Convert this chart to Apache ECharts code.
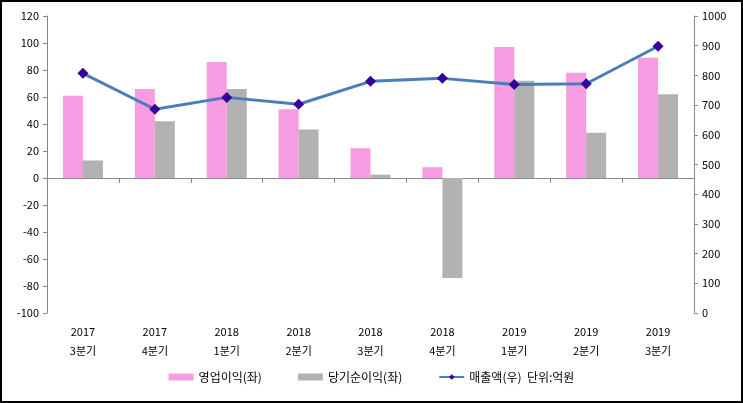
<!DOCTYPE html>
<html>
<head>
<meta charset="utf-8">
<style>
  html, body { margin: 0; padding: 0; background: #fff; }
  #main { width: 743px; height: 403px; }
</style>
<script src="https://cdn.jsdelivr.net/npm/echarts@6/dist/echarts.min.js"></script>
</head>
<body>
<div id="main"></div>
<script>
var years = ['2017', '2017', '2018', '2018', '2018', '2018', '2019', '2019', '2019'];
var quarters = ['3분기', '4분기', '1분기', '2분기', '3분기', '4분기', '1분기', '2분기', '3분기'];
var operProfit = [61, 66, 86, 51, 22, 8, 97, 78, 89];      // 영업이익(좌)
var netProfit = [13, 42, 66, 36, 2.5, -74, 72, 33.5, 62];   // 당기순이익(좌)
var sales = [807, 686, 726, 703, 780, 790, 769, 772, 898];  // 매출액(우)

var categories = years.map(function (y, i) { return y + '\n' + quarters[i]; });

var myChart = echarts.init(document.getElementById('main'));
var font = '"Noto Sans CJK KR", "Noto Sans", sans-serif';

var option = {
    backgroundColor: '#fff',
    animation: false,
    textStyle: { fontFamily: font },
    graphic: [{
        type: 'rect',
        shape: { x: 1, y: 1, width: 741, height: 401 },
        style: { fill: 'none', stroke: '#000', lineWidth: 2 },
        silent: true
    }],
    grid: {
        top: 16,
        left: 47,
        right: 49,
        bottom: 90
    },
    legend: {
        bottom: 15,
        left: 'center',
        itemWidth: 25,
        itemHeight: 7,
        itemGap: 36,
        textStyle: { fontSize: 12, color: '#000', fontFamily: font },
        data: [
            { name: '영업이익(좌)', icon: 'rect' },
            { name: '당기순이익(좌)', icon: 'rect' },
            { name: '매출액(우)  단위:억원' }
        ]
    },
    xAxis: [
        {
            type: 'category',
            data: categories,
            boundaryGap: true,
            axisLine: { onZero: true, lineStyle: { color: '#888', width: 1 } },
            axisTick: { show: true, length: 5, lineStyle: { color: '#888' } },
            axisLabel: { show: false }
        },
        {
            type: 'category',
            data: categories,
            position: 'bottom',
            boundaryGap: true,
            axisLine: { show: false, onZero: false },
            axisTick: { show: false },
            axisLabel: {
                margin: 9,
                color: '#000',
                fontSize: 11,
                lineHeight: 19,
                fontFamily: font
            }
        }
    ],
    yAxis: [
        {
            type: 'value',
            min: -100,
            max: 120,
            interval: 20,
            splitLine: { show: false },
            axisLine: { show: true, lineStyle: { color: '#888' } },
            axisTick: { show: true, length: 4, lineStyle: { color: '#888' } },
            axisLabel: { color: '#000', fontSize: 11, margin: 8, fontFamily: font }
        },
        {
            type: 'value',
            min: 0,
            max: 1000,
            interval: 100,
            splitLine: { show: false },
            axisLine: { show: true, lineStyle: { color: '#888' } },
            axisTick: { show: true, length: 4, lineStyle: { color: '#888' } },
            axisLabel: {
                color: '#000', fontSize: 11, margin: 8, fontFamily: font,
                formatter: function (v) { return String(v); }
            }
        }
    ],
    series: [
        {
            name: '영업이익(좌)',
            type: 'bar',
            data: operProfit,
            barWidth: 20,
            barGap: '0%',
            itemStyle: { color: '#F79BE3' }
        },
        {
            name: '당기순이익(좌)',
            type: 'bar',
            data: netProfit,
            barWidth: 20,
            barGap: '0%',
            itemStyle: { color: '#B2B2B2' }
        },
        {
            name: '매출액(우)  단위:억원',
            type: 'line',
            yAxisIndex: 1,
            data: sales,
            symbol: 'diamond',
            symbolSize: 11,
            lineStyle: { color: '#4A7EBB', width: 3 },
            itemStyle: { color: '#330099' }
        }
    ]
};

myChart.setOption(option);
</script>
</body>
</html>
